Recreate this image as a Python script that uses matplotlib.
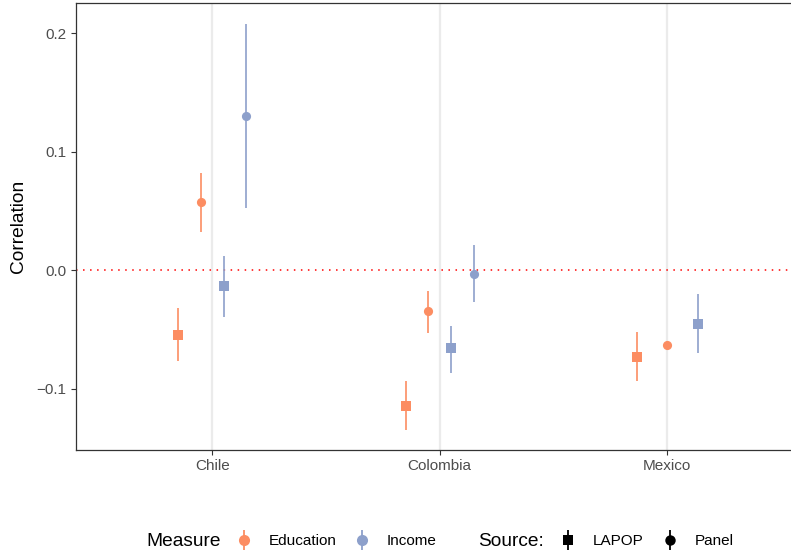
import matplotlib.pyplot as plt
from matplotlib.lines import Line2D
from matplotlib.legend_handler import HandlerTuple

plt.rcParams['font.family'] = ['Liberation Sans', 'DejaVu Sans']

countries = ['Chile', 'Colombia', 'Mexico']
country = ['Chile', 'Chile', 'Chile', 'Chile',
           'Colombia', 'Colombia', 'Colombia', 'Colombia',
           'Mexico', 'Mexico', 'Mexico']
measure = ['Education', 'Education', 'Income', 'Income',
           'Education', 'Education', 'Income', 'Income',
           'Education', 'Education', 'Income']
source = ['LAPOP', 'Panel', 'LAPOP', 'Panel',
          'LAPOP', 'Panel', 'LAPOP', 'Panel',
          'LAPOP', 'Panel', 'LAPOP']
estimate = [-0.055, 0.057, -0.0135, 0.130,
            -0.115, -0.035, -0.066, -0.003,
            -0.073, -0.0635, -0.0455]
lower = [-0.0765, 0.032, -0.0394, 0.0526,
         -0.135, -0.053, -0.087, -0.027,
         -0.094, -0.066, -0.070]
upper = [-0.032, 0.0816, 0.012, 0.2076,
         -0.094, -0.018, -0.047, 0.0214,
         -0.0527, -0.061, -0.0205]

colors = {'Education': '#FC8D62', 'Income': '#8DA0CB'}
markers = {'LAPOP': 's', 'Panel': 'o'}
msize = {'LAPOP': 7.3, 'Panel': 6.6}

fig = plt.figure(figsize=(7.91, 5.54), dpi=100)
ax = fig.add_axes([75.7 / 791, 104 / 554, 728 / 791, 446.7 / 554])

# dodge within each country (width 0.4)
dodge = 0.4
xs = []
for c in countries:
    idx = [i for i, cc in enumerate(country) if cc == c]
    n = len(idx)
    for k, i in enumerate(idx):
        xs.append(countries.index(c) + 1 + (k - (n - 1) / 2) * dodge / n)

for i in range(len(estimate)):
    col = colors[measure[i]]
    ax.plot([xs[i], xs[i]], [lower[i], upper[i]], color=col, lw=1.2,
            solid_capstyle='butt', zorder=2)
    ax.plot(xs[i], estimate[i], marker=markers[source[i]], color=col,
            ms=msize[source[i]], mew=0, ls='none', zorder=3)

ax.axhline(0, color='red', ls=(0, (1, 3.6)), lw=1.1, zorder=1)

ax.set_xlim(0.4, 3.6)
ax.set_ylim(-0.1519, 0.2251)
ax.set_xticks([1, 2, 3])
ax.set_xticklabels(countries)
ax.set_yticks([-0.1, 0.0, 0.1, 0.2])
ax.set_yticklabels(['\u22120.1', '0.0', '0.1', '0.2'])
ax.grid(axis='x', color='#EBEBEB', lw=1.6)
ax.set_axisbelow(True)
ax.tick_params(colors='#333333', labelcolor='#4D4D4D', labelsize=11,
               length=3.5, width=0.8, pad=3)
for s in ax.spines.values():
    s.set_color('#333333')
    s.set_linewidth(0.9)
ax.set_ylabel('Correlation', fontsize=13.75)
ax.yaxis.set_label_coords(-0.067, 0.5)

# legend
def key(col, mk, ms):
    bar = Line2D([], [], marker='|', color=col, ms=15, mew=1.3, ls='none')
    pt = Line2D([], [], marker=mk, color=col, ms=ms, mew=0, ls='none')
    return (bar, pt)

ly = 1 - 541 / 554
hm = {tuple: HandlerTuple(ndivide=1)}
fig.text(146 / 791, ly, 'Measure', fontsize=13.75, va='center', ha='left')
fig.legend([key(colors['Education'], 'o', 8), key(colors['Income'], 'o', 8)],
           ['Education', 'Income'], loc='center left',
           bbox_to_anchor=(236.4 / 791, ly), ncol=2, frameon=False,
           fontsize=11, handler_map=hm, borderpad=0, borderaxespad=0,
           handlelength=1.0, handletextpad=1.14, columnspacing=1.14)
fig.text(478 / 791, ly, 'Source:', fontsize=13.75, va='center', ha='left')
fig.legend([key('black', 's', 7.5), key('black', 'o', 7.5)],
           ['LAPOP', 'Panel'], loc='center left',
           bbox_to_anchor=(560.4 / 791, ly), ncol=2, frameon=False,
           fontsize=11, handler_map=hm, borderpad=0, borderaxespad=0,
           handlelength=1.0, handletextpad=1.14, columnspacing=1.2)

fig.savefig('out.png', dpi=100)
